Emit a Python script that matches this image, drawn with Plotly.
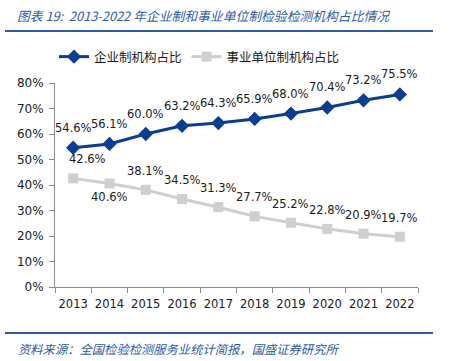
import plotly.graph_objects as go

years = ["2013", "2014", "2015", "2016", "2017", "2018", "2019", "2020", "2021", "2022"]
enterprise = [0.546, 0.561, 0.600, 0.632, 0.643, 0.659, 0.680, 0.704, 0.732, 0.755]
institution = [0.426, 0.406, 0.381, 0.345, 0.313, 0.277, 0.252, 0.228, 0.209, 0.197]
y_ticks = [0, 0.1, 0.2, 0.3, 0.4, 0.5, 0.6, 0.7, 0.8]
y_tick_labels = ["0%", "10%", "20%", "30%", "40%", "50%", "60%", "70%", "80%"]
series_names = ["企业制机构占比", "事业单位制机构占比"]
title_text = "图表 19:  2013-2022 年企业制和事业单位制检验检测机构占比情况"
source_text = "资料来源：全国检验检测服务业统计简报，国盛证券研究所"

BLUE = "#0b3d91"
GRAY = "#cfcfcf"
TXT = "#1a1a1a"
RULE = "#2f5ba6"
W, H = 450, 361
L, R, T, B = 55, 32, 83, 74
pw, ph = W - L - R, H - T - B

def px_x(x):
    return (x - L) / pw

def px_y(y):
    return (H - B - y) / ph

fig = go.Figure()
fig.add_trace(go.Scatter(
    x=years, y=enterprise, name=series_names[0], mode="lines+markers",
    line=dict(color=BLUE, width=3),
    marker=dict(symbol="diamond", size=11, color=BLUE),
))
fig.add_trace(go.Scatter(
    x=years, y=institution, name=series_names[1], mode="lines+markers",
    line=dict(color=GRAY, width=3),
    marker=dict(symbol="square", size=10, color=GRAY),
))

annos = []
lab_font = dict(family="DejaVu Sans", size=11.5, color=TXT)
for i, v in enumerate(enterprise):
    annos.append(dict(x=i, y=v, text=f"{v*100:.1f}%", showarrow=False,
                      xref="x", yref="y", yshift=20, font=lab_font))
for i, v in enumerate(institution):
    ys = -14 if i == 1 else 19
    xs = 14 if i == 0 else 0
    annos.append(dict(x=i, y=v, text=f"{v*100:.1f}%", showarrow=False,
                      xref="x", yref="y", yshift=ys, xshift=xs, font=lab_font))

annos.append(dict(x=px_x(15), y=px_y(15), xref="paper", yref="paper",
                  xanchor="left", yanchor="middle", showarrow=False,
                  text=f"<i>{title_text}</i>",
                  font=dict(family="Noto Sans CJK SC", size=12.8, color=RULE)))
annos.append(dict(x=px_x(16), y=px_y(349), xref="paper", yref="paper",
                  xanchor="left", yanchor="middle", showarrow=False,
                  text=f"<i>{source_text}</i>",
                  font=dict(family="Noto Sans CJK SC", size=12.3, color=RULE)))

shapes = [
    dict(type="line", xref="paper", yref="paper", x0=px_x(5), x1=px_x(433),
         y0=px_y(31), y1=px_y(31), line=dict(color=RULE, width=2)),
    dict(type="line", xref="paper", yref="paper", x0=px_x(5), x1=px_x(433),
         y0=px_y(333), y1=px_y(333), line=dict(color=RULE, width=2)),
]

fig.update_layout(
    width=W, height=H,
    margin=dict(l=L, r=R, t=T, b=B, autoexpand=False),
    paper_bgcolor="white", plot_bgcolor="white",
    showlegend=True,
    legend=dict(orientation="h", x=px_x(54), y=px_y(57), xanchor="left", yanchor="middle",
                font=dict(family="Noto Sans CJK SC", size=12.5, color=TXT),
                bgcolor="rgba(0,0,0,0)", itemwidth=30),
    annotations=annos,
    shapes=shapes,
    xaxis=dict(type="category", range=[-0.5, len(years) - 0.5],
               showline=True, linecolor="#8c8c8c", linewidth=1,
               ticks="outside", tickson="boundaries", ticklen=5, tickcolor="#8c8c8c",
               showgrid=False, zeroline=False, tickangle=0, ticklabelstandoff=6,
               tickfont=dict(family="DejaVu Sans", size=11.5, color=TXT)),
    yaxis=dict(range=[0, 0.8], tickvals=y_ticks, ticktext=y_tick_labels,
               showline=True, linecolor="#8c8c8c", linewidth=1,
               ticks="outside", ticklen=5, tickcolor="#8c8c8c", ticklabelstandoff=3,
               showgrid=False, zeroline=False,
               tickfont=dict(family="DejaVu Sans", size=12, color=TXT)),
)

fig.write_html("out.html", config={"displayModeBar": False},
               post_script="document.body.style.margin='0px';document.body.style.overflow='hidden';")
